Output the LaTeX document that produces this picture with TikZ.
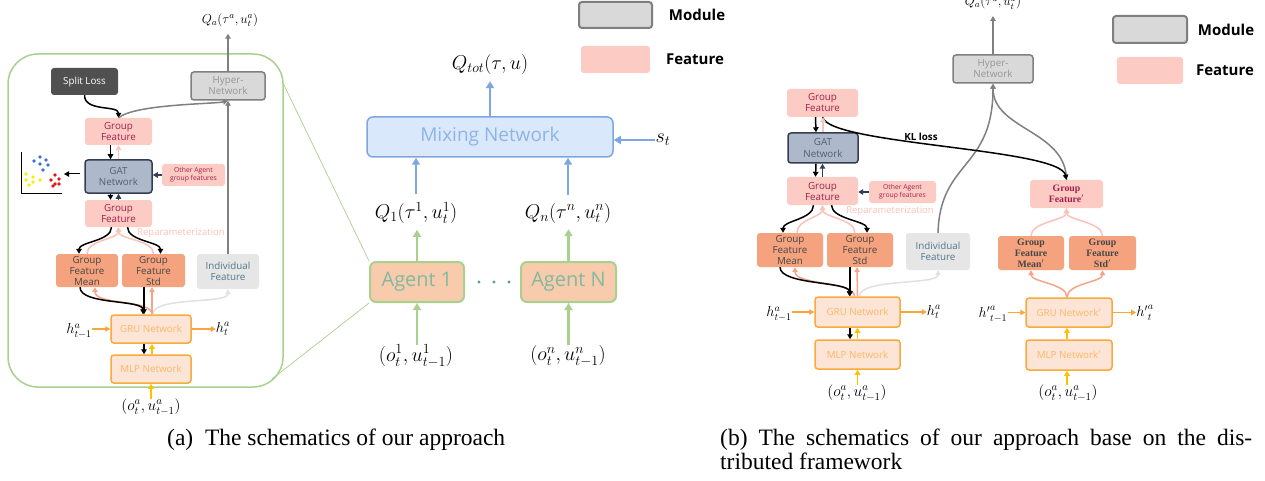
\RequirePackage{fix-cm}
\documentclass[tikz,border=0pt]{standalone}
\usepackage[no-math]{fontspec}
\setmainfont{Liberation Serif}
\setsansfont{Liberation Sans}
\newfontfamily\dfont{Open Sans}
\usetikzlibrary{arrows.meta}
\definecolor{featfill}{RGB}{252,204,196}
\definecolor{feattext}{RGB}{165,30,75}
\definecolor{msfill}{RGB}{245,162,126}
\definecolor{mstext}{RGB}{70,70,70}
\definecolor{gatfill}{RGB}{173,185,202}
\definecolor{gatdraw}{RGB}{51,63,80}
\definecolor{gattext}{RGB}{80,95,115}
\definecolor{modfill}{RGB}{217,217,217}
\definecolor{moddraw}{RGB}{127,127,127}
\definecolor{modtext}{RGB}{150,150,150}
\definecolor{splitc}{RGB}{80,80,80}
\definecolor{indfill}{RGB}{231,230,230}
\definecolor{indtext}{RGB}{80,120,140}
\definecolor{grufill}{RGB}{252,228,214}
\definecolor{grudraw}{RGB}{250,170,60}
\definecolor{grutext}{RGB}{250,185,100}
\definecolor{yel}{RGB}{255,192,0}
\definecolor{orng}{RGB}{247,165,60}
\definecolor{grn}{RGB}{169,209,142}
\definecolor{agfill}{RGB}{248,203,173}
\definecolor{agtext}{RGB}{130,185,160}
\definecolor{mixfill}{RGB}{218,232,252}
\definecolor{mixdraw}{RGB}{126,166,224}
\definecolor{mixtext}{RGB}{142,180,227}
\definecolor{reptext}{RGB}{250,195,185}
\definecolor{salm}{RGB}{244,165,135}
\definecolor{lgray}{RGB}{225,225,225}
\definecolor{pinkarr}{RGB}{250,195,185}
\definecolor{grayarr}{RGB}{128,128,128}
\definecolor{dotc}{RGB}{80,160,140}
\definecolor{sblue}{RGB}{60,110,220}
\definecolor{syel}{RGB}{255,235,0}
\definecolor{sred}{RGB}{230,20,20}
\begin{document}
\begin{tikzpicture}[x=1pt,y=-1pt,
  sbox/.style={rounded corners=3pt, align=center, inner sep=0pt, font=\dfont\fontsize{9.8}{11}\selectfont},
  sfeat/.style={sbox, fill=featfill, text=feattext},
  sfeatp/.style={sfeat, font=\rmfamily\bfseries\fontsize{9.8}{11}\selectfont},
  sfeatsm/.style={sbox, fill=featfill, text=feattext, font=\dfont\fontsize{6.8}{8}\selectfont},
  sgat/.style={sbox, fill=gatfill, draw=gatdraw, line width=1.5pt, text=gattext},
  smod/.style={sbox, fill=modfill, draw=moddraw, line width=1.5pt, text=modtext},
  sms/.style={sbox, fill=msfill, text=mstext},
  smsp/.style={sms, font=\rmfamily\bfseries\fontsize{9.8}{11}\selectfont},
  sind/.style={sbox, fill=indfill, text=indtext},
  sgru/.style={sbox, fill=grufill, draw=grudraw, line width=1.5pt, text=grutext},
  sdark/.style={sbox, fill=splitc, text=white},
  smix/.style={sbox, rounded corners=6pt, fill=mixfill, draw=mixdraw, line width=1.5pt, text=mixtext, font=\dfont\fontsize{19}{21}\selectfont},
  sag/.style={sbox, rounded corners=6pt, fill=agfill, draw=grn, line width=2pt, text=agtext, font=\dfont\fontsize{20}{22}\selectfont},
  lbl/.style={inner sep=0pt, font=\fontsize{14.5}{16}\selectfont},
  lblsm/.style={inner sep=0pt, font=\fontsize{13}{14}\selectfont},
  lblmid/.style={inner sep=0pt, font=\fontsize{15.5}{17}\selectfont},
  lblbig/.style={inner sep=0pt, font=\fontsize{20}{22}\selectfont},
  reptxt/.style={inner sep=0pt, text=reptext, font=\dfont\fontsize{9.5}{11}\selectfont},
  legtxt/.style={inner sep=0pt, font=\dfont\bfseries\fontsize{15}{17}\selectfont},
  capt/.style={inner sep=0pt, font=\rmfamily\fontsize{23.5}{24}\selectfont},
  arr/.style={-{Triangle[length=5pt,width=5.5pt]}, line width=1.5pt},
  arrb/.style={-{Triangle[length=7pt,width=8pt]}, line width=2.5pt, mixdraw},
  arrg/.style={-{Triangle[length=7pt,width=8pt]}, line width=2.5pt, grn},
]
\useasboundingbox (0,0) rectangle (1265,481);
\clip (0,0) rectangle (1265,481);
\fill[white] (0,0) rectangle (1265,481);

% ================= panel (a), agent detail =================
\node[draw=grn, line width=1.5pt, rounded corners=30pt, minimum width=275pt, minimum height=333pt, inner sep=0pt] (contA) at (145.5,220.5) {};
\coordinate (zA1) at (283,83);
\coordinate (zA2) at (272,379);

\node[sdark, minimum width=67pt, minimum height=27pt] (split) at (84.5,81.5) {Split Loss};
\node[smod, minimum width=74pt, minimum height=28pt] (hypA) at (228,86) {Hyper-\\Network};
\node[sfeat, minimum width=67pt, minimum height=27pt] (gfA1) at (118.5,131.5) {Group\\Feature};
\node[sgat, minimum width=67pt, minimum height=33pt] (gatA) at (118.5,176.5) {GAT\\Network};
\node[sfeatsm, minimum width=63pt, minimum height=22pt] (othA) at (193.5,175) {Other Agent\\group features};
\node[sfeat, minimum width=67pt, minimum height=27pt] (gfA2) at (118.5,213.5) {Group\\Feature};
\node[sms, minimum width=62pt, minimum height=33pt] (meanA) at (87,270.5) {Group\\Feature\\Mean};
\node[sms, minimum width=63pt, minimum height=33pt] (stdA) at (153.5,270.5) {Group\\Feature\\Std};
\node[sind, minimum width=62pt, minimum height=35pt] (indA) at (228,271.5) {Individual\\Feature};
\node[sgru, minimum width=80pt, minimum height=28pt] (gruA) at (151,329) {GRU Network};
\node[sgru, minimum width=80pt, minimum height=28pt] (mlpA) at (151,369) {MLP Network};
\node[reptxt] (repA) at (181,233) {Reparameterization};
\node[lblsm] (qaA) at (230,20) {$Q_a(\tau^a,u_t^a)$};
\node[lbl] (hA1) at (79,331) {$h_{t-1}^a$};
\node[lbl] (hA2) at (223,329) {$h_t^a$};
\node[lblmid] (oA) at (151,407) {$(o_t^a,u_{t-1}^a)$};

% scatter plot
\draw[black, line width=0.8pt] (21,152) -- (21,193) -- (62,193);
\foreach \p in {(34,161),(40,157),(46,160),(40,164),(48,165),(43,170)} \fill[sblue] \p circle (1.8);
\foreach \p in {(26,174),(33,177),(26,180),(40,180),(33,182),(29,185)} \fill[syel] \p circle (1.8);
\foreach \p in {(55,175),(59,179),(51,180),(55,184),(59,184),(53,186)} \fill[sred] \p circle (1.8);
\coordinate (scat) at (64,174);
\draw[arr, black, line width=1pt, shorten <=4pt] (gatA.west |- scat) -- (scat);

\draw[arr, black] (split.south) .. controls +(0,17) and +(0,-13) .. (gfA1.north);
\draw[arr, grayarr] (gfA1.north) .. controls (135,104) and (215,104) .. (hypA.south);
\draw[arr, grayarr] (indA.north) -- (hypA.south);
\draw[arr, grayarr, shorten >=7pt] (hypA.north) -- (hypA.north |- qaA.south);
\draw[arr, black] ([xshift=-8pt]gfA1.south) -- ([xshift=-8pt]gatA.north);
\draw[arr, pinkarr] (gatA.north) -- (gfA1.south);
\draw[arr, black] ([xshift=-8pt]gatA.south) -- ([xshift=-8pt]gfA2.north);
\draw[arr, gatdraw] (gfA2.north) -- (gatA.south);
\draw[arr, gatdraw] (othA.west) -- (othA.west -| gatA.east);
\draw[arr, pinkarr] (meanA.north) .. controls +(0,-14) and +(0,12) .. (gfA2.south);
\draw[arr, pinkarr] (stdA.north) .. controls +(0,-14) and +(0,12) .. (gfA2.south);
\draw[arr, black] ([xshift=-7pt]gfA2.south) .. controls +(0,14) and +(0,-12) .. ([xshift=-8pt]meanA.north);
\draw[arr, black] ([xshift=9pt]gfA2.south) .. controls +(0,14) and +(0,-12) .. ([xshift=7pt]stdA.north);
\draw[arr, lgray] ([xshift=2pt]gruA.north) .. controls +(0,-18) and +(0,15) .. (indA.south);
\draw[arr, salm] ([xshift=1pt]gruA.north) .. controls +(0,-15) and +(0,18) .. ([xshift=8pt]meanA.south);
\draw[arr, salm] ([xshift=1pt]gruA.north) -- ([xshift=-1.5pt]stdA.south);
\draw[arr, black] ([xshift=-7pt]meanA.south) .. controls +(0,18) and +(0,-15) .. ([xshift=-8pt]gruA.north);
\draw[arr, black] ([xshift=-9.5pt]stdA.south) -- ([xshift=-7pt]gruA.north);
\draw[arr, black] ([xshift=-7pt]gruA.south) -- ([xshift=-7pt]mlpA.north);
\draw[arr, yel] ([xshift=1pt]mlpA.north) -- ([xshift=1pt]gruA.south);
\draw[arr, orng] (hA1.east |- gruA.west) -- (gruA.west);
\draw[arr, orng] (gruA.east) -- (gruA.east -| hA2.west);
\draw[arr, yel] (mlpA.south |- oA.north) -- (mlpA.south);

% ================= panel (a), mixing =================
\node[smix, minimum width=246pt, minimum height=40pt] (mix) at (490,137) {Mixing Network};
\node[sag, minimum width=94pt, minimum height=40pt] (ag1) at (417,282) {Agent 1};
\node[sag, minimum width=95pt, minimum height=40pt] (agN) at (568.5,282) {Agent N};
\draw[grn, line width=0.7pt] (zA1) -- (ag1.north west);
\draw[grn, line width=0.7pt] (zA2) -- (ag1.south west);
\fill[dotc] (479,282) circle (1.6) (494,282) circle (1.6) (509,282) circle (1.6);
\node[lblbig] (qtot) at (490,65) {$Q_{tot}(\tau,u)$};
\node[lblbig] (st) at (663,140) {$s_t$};
\node[lblbig] (q1) at (416,213) {$Q_1(\tau^1,u_t^1)$};
\node[lblbig] (qn) at (568,213) {$Q_n(\tau^n,u_t^n)$};
\node[lblbig] (o1) at (416,356) {$(o_t^1,u_{t-1}^1)$};
\node[lblbig] (on) at (568,356) {$(o_t^n,u_{t-1}^n)$};
\draw[arrb, shorten >=6pt] (mix.north) -- (mix.north |- qtot.south);
\draw[arrb] (st.west) -- (st.west -| mix.east);
\draw[arrb, shorten <=8pt] (q1.north) -- (q1.north |- mix.south);
\draw[arrb, shorten <=8pt] (qn.north) -- (qn.north |- mix.south);
\draw[arrg, shorten >=6pt] (ag1.north) -- (ag1.north |- q1.south);
\draw[arrg, shorten >=6pt] (agN.north) -- (agN.north |- qn.south);
\draw[arrg] (ag1.south |- o1.north) -- (ag1.south);
\draw[arrg] (agN.south |- on.north) -- (agN.south);

% legend (a)
\node[smod, minimum width=73pt, minimum height=26pt, line width=2pt] (legMa) at (615.5,15) {};
\node[legtxt] (legMaT) at (697,15) {Module};
\node[sfeat, minimum width=69pt, minimum height=27pt] (legFa) at (615.5,59.5) {};
\node[legtxt] (legFaT) at (695,59) {Feature};

% ================= panel (b) =================
\node[smod, minimum width=80pt, minimum height=28pt] (hypB) at (993,69) {Hyper-\\Network};
\node[lblsm, anchor=base] (qaB) at (993,6) {$Q_a(\tau^a,u_t^a)$};
\node[sfeat, minimum width=71pt, minimum height=28pt] (gfB1) at (822.5,103) {Group\\Feature};
\node[sgat, minimum width=70pt, minimum height=30pt] (gatB) at (823,148) {GAT\\Network};
\node[sfeat, minimum width=71pt, minimum height=28pt] (gfB2) at (822.5,191) {Group\\Feature};
\node[sfeatsm, minimum width=67pt, minimum height=22pt] (othB) at (902.5,192) {Other Agent\\group features};
\node[reptxt] (repB) at (890,211) {Reparameterization};
\node[sms, minimum width=66pt, minimum height=34pt] (meanB) at (790,250) {Group\\Feature\\Mean};
\node[sms, minimum width=66pt, minimum height=34pt] (stdB) at (860,250) {Group\\Feature\\Std};
\node[sind, minimum width=64pt, minimum height=37pt] (indB) at (938,251.5) {Individual\\Feature};
\node[sgru, minimum width=85pt, minimum height=30pt] (gruB) at (857.5,312) {GRU Network};
\node[sgru, minimum width=85pt, minimum height=29pt] (mlpB) at (857.5,354.5) {MLP Network};
\node[lbl] (hB1) at (779,314) {$h_{t-1}^a$};
\node[lbl] (hB2) at (934,312) {$h_t^a$};
\node[lblmid] (oB) at (857,393) {$(o_t^a,u_{t-1}^a)$};
\node[inner sep=0pt, font=\dfont\bfseries\fontsize{9.8}{11}\selectfont] (kl) at (921,137) {KL loss};

\node[sfeatp, minimum width=73pt, minimum height=28pt] (gfBp) at (1066.5,194) {Group\\Feature$'$};
\node[smsp, minimum width=66pt, minimum height=34pt] (meanBp) at (1031,253) {Group\\Feature\\Mean$'$};
\node[smsp, minimum width=67pt, minimum height=34pt] (stdBp) at (1102.5,253) {Group\\Feature\\Std$'$};
\node[sgru, minimum width=86pt, minimum height=29pt] (gruBp) at (1069,312.5) {GRU Network$'$};
\node[sgru, minimum width=86pt, minimum height=30pt] (mlpBp) at (1069,355) {MLP Network$'$};
\node[lbl] (hBp1) at (993,314) {${h'}_{t-1}^a$};
\node[lbl] (hBp2) at (1145,313) {${h'}_t^a$};
\node[lblmid] (oBp) at (1068,393) {$(o_t^a,u_{t-1}^a)$};

\draw[arr, grayarr, shorten >=6pt] (hypB.north) -- (qaB.north |- 0,10);
\draw[arr, grayarr] (indB.north) .. controls (940,160) and (993,170) .. (hypB.south);
\draw[arr, grayarr] (gfBp.north) .. controls (1066,130) and (993,130) .. (hypB.south);
\draw[arr, black] (gfB1.south) .. controls (830,145) and (1060,148) .. (gfBp.north);
\draw[arr, black] ([xshift=-7pt]gfB1.south) -- ([xshift=-7pt]gatB.north);
\draw[arr, pinkarr] (gatB.north) -- (gatB.north |- gfB1.south);
\draw[arr, black] ([xshift=-7pt]gatB.south) -- ([xshift=-7pt]gfB2.north);
\draw[arr, gatdraw] (gfB2.north) -- (gfB2.north |- gatB.south);
\draw[arr, gatdraw] (othB.west) -- (othB.west -| gfB2.east);
\draw[arr, pinkarr] ([xshift=7pt]meanB.north) .. controls +(0,-14) and +(0,12) .. (gfB2.south);
\draw[arr, pinkarr] ([xshift=-5pt]stdB.north) .. controls +(0,-14) and +(0,12) .. (gfB2.south);
\draw[arr, black] ([xshift=-9pt]gfB2.south) .. controls +(0,14) and +(0,-12) .. ([xshift=-7pt]meanB.north);
\draw[arr, black] ([xshift=9pt]gfB2.south) .. controls +(0,14) and +(0,-12) .. ([xshift=7pt]stdB.north);
\draw[arr, lgray] ([xshift=2pt]gruB.north) .. controls +(0,-18) and +(0,15) .. (indB.south);
\draw[arr, salm] ([xshift=-3pt]gruB.north) .. controls +(0,-15) and +(0,18) .. ([xshift=5pt]meanB.south);
\draw[arr, salm] (gruB.north) -- ([xshift=-3pt]stdB.south);
\draw[arr, black] ([xshift=-10pt]meanB.south) .. controls +(0,18) and +(0,-15) .. ([xshift=-8pt]gruB.north);
\draw[arr, black] ([xshift=-10pt]stdB.south) -- ([xshift=-7.5pt]gruB.north);
\draw[arr, black] ([xshift=-7.5pt]gruB.south) -- ([xshift=-7.5pt]mlpB.north);
\draw[arr, yel] (mlpB.north) -- (gruB.south);
\draw[arr, orng] (hB1.east |- gruB.west) -- (gruB.west);
\draw[arr, orng] (gruB.east) -- (gruB.east -| hB2.west);
\draw[arr, yel] (mlpB.south |- oB.north) -- (mlpB.south);

\draw[arr, salm] ([xshift=-2pt]gruBp.north) .. controls +(0,-14) and +(0,12) .. (meanBp.south);
\draw[arr, salm] ([xshift=-2pt]gruBp.north) .. controls +(0,-14) and +(0,12) .. (stdBp.south);
\draw[arr, pinkarr] (meanBp.north) .. controls +(0,-14) and +(0,12) .. (gfBp.south);
\draw[arr, pinkarr] (stdBp.north) .. controls +(0,-14) and +(0,12) .. (gfBp.south);
\draw[arr, yel] ([xshift=-2pt]mlpBp.north) -- ([xshift=-2pt]gruBp.south);
\draw[arr, orng] (hBp1.east |- gruBp.west) -- (gruBp.west);
\draw[arr, orng] (gruBp.east) -- (gruBp.east -| hBp2.west);
\draw[arr, yel] ([xshift=-2pt]mlpBp.south |- oBp.north) -- ([xshift=-2pt]mlpBp.south);

% legend (b)
\node[smod, minimum width=74pt, minimum height=27pt, line width=2pt] (legMb) at (1150,29.5) {};
\node[legtxt] (legMbT) at (1226,30) {Module};
\node[sfeat, minimum width=66pt, minimum height=27pt] (legFb) at (1150,70.5) {};
\node[legtxt] (legFbT) at (1225,70) {Feature};

% captions
\node[capt, anchor=base west] (capA) at (167,445) {(a)\enspace The schematics of our approach};
\node[capt, anchor=base west] (capB1) at (720,445) {\makebox[532pt][s]{(b) The schematics of our approach base on the dis-}};
\node[capt, anchor=base west] (capB2) at (720,469) {tributed framework};
\end{tikzpicture}
\end{document}
